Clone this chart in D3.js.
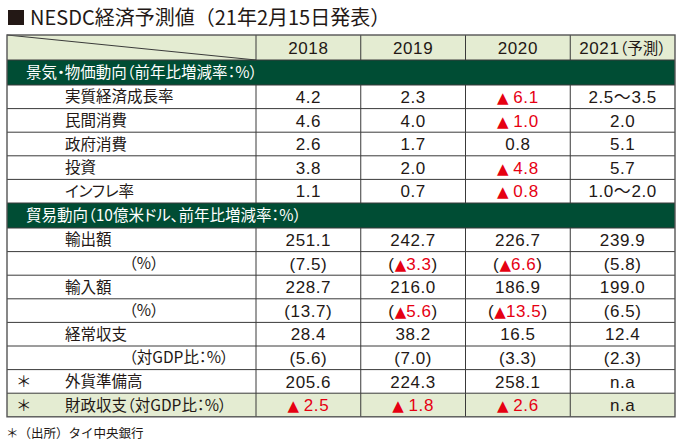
<!DOCTYPE html>
<html><head><meta charset="utf-8">
<script src="https://cdn.jsdelivr.net/npm/d3@7"></script>
<style>
body{margin:0;background:#fff;}
svg{display:block;font-family:"Liberation Sans","Noto Sans CJK JP",sans-serif;}
.jp{font-family:"Noto Sans CJK JP",sans-serif;font-feature-settings:"palt";letter-spacing:0;}
.tri{font-family:"DejaVu Sans",sans-serif;letter-spacing:0;}
</style></head><body>
<svg id="c" width="680" height="443"></svg>
<script>
const title = "NESDC経済予測値（21年2月15日発表）";
const years = ["2018","2019","2020","2021（予測）"];
const section1Title = "景気・物価動向（前年比増減率：%）";
const section1Labels = ["実質経済成長率","民間消費","政府消費","投資","インフレ率"];
const section2Title = "貿易動向（10億米ドル、前年比増減率：%）";
const section2Labels = ["輸出額","（%）","輸入額","（%）","経常収支","（対GDP比：%）","外貨準備高","財政収支（対GDP比：%）"];
const section2Sub = [false,true,false,true,false,true,false,false];
const section2Mark = ["","","","","","","＊","＊"];
const v2018 = ["4.2","4.6","2.6","3.8","1.1","251.1","(7.5)","228.7","(13.7)","28.4","(5.6)","205.6","▲ 2.5"];
const v2019 = ["2.3","4.0","1.7","2.0","0.7","242.7","(▲3.3)","216.0","(▲5.6)","38.2","(7.0)","224.3","▲ 1.8"];
const v2020 = ["▲ 6.1","▲ 1.0","0.8","▲ 4.8","▲ 0.8","226.7","(▲6.6)","186.9","(▲13.5)","16.5","(3.3)","258.1","▲ 2.6"];
const v2021 = ["2.5〜3.5","2.0","5.1","5.7","1.0〜2.0","239.9","(5.8)","199.0","(6.5)","12.4","(2.3)","n.a","n.a"];
const footnote = "＊（出所）タイ中央銀行";

const svg = d3.select("#c");
const ink = "#231815", red = "#e60012", dark = "#004d34", pale = "#e4ecd2", lineC = "#3a3a3a";
const left = 7, right = 675, labelRight = 256;
const x = d3.scaleBand().domain(years).range([labelRight, right]);
const cols = [v2018, v2019, v2020, v2021];

const rows = [];
rows.push({type:"header", h:25});
rows.push({type:"band", h:25, text:section1Title});
section1Labels.forEach((l,i)=>rows.push({type:"data", h:23.6, label:l, sub:false, mark:"", idx:i}));
rows.push({type:"band", h:25, text:section2Title});
section2Labels.forEach((l,i)=>rows.push({type:"data", h:23.6, label:l, sub:section2Sub[i], mark:section2Mark[i], idx:section1Labels.length+i, last:i===section2Labels.length-1}));
let yy = 35;
rows.forEach(r=>{r.y=yy; yy+=r.h;});
const bottom = yy;

svg.append("rect").attr("x",8).attr("y",10).attr("width",16).attr("height",15).attr("fill",ink);
svg.append("text").attr("x",30).attr("y",25).attr("font-size",20).attr("fill",ink)
  .attr("font-family","'Noto Sans CJK JP',sans-serif").text(title);

rows.forEach(r=>{
  let fill = "#fff";
  if (r.type==="header" || r.last) fill = pale;
  if (r.type==="band") fill = dark;
  svg.append("rect").attr("x",left).attr("y",r.y).attr("width",right-left).attr("height",r.h).attr("fill",fill);
});

rows.forEach((r,i)=>{ if(i>0) svg.append("line").attr("x1",left).attr("x2",right).attr("y1",r.y).attr("y2",r.y).attr("stroke",lineC).attr("stroke-width",1);});
rows.forEach(r=>{
  if (r.type==="band") return;
  [labelRight, ...years.slice(1).map(d=>x(d))].forEach(xx=>{
    svg.append("line").attr("x1",xx).attr("x2",xx).attr("y1",r.y).attr("y2",r.y+r.h).attr("stroke",lineC).attr("stroke-width",1);
  });
});
svg.append("line").attr("x1",left).attr("y1",35).attr("x2",labelRight).attr("y2",60).attr("stroke",lineC).attr("stroke-width",1);
svg.append("rect").attr("x",left).attr("y",35).attr("width",right-left).attr("height",bottom-35)
  .attr("fill","none").attr("stroke","#555").attr("stroke-width",1.4);

const fs = 15.5, nfs = 17, ls = 0.6;
function valueText(sel, s){
  const m = s.match(/^(\(?)▲\s?([\d.]+)(\)?)$/);
  const spaced = /▲\s/.test(s);
  if (m){
    if (m[1]) sel.append("tspan").attr("fill",ink).text(m[1]);
    sel.append("tspan").attr("class","tri").attr("font-size",15).attr("fill",red).text(spaced ? "▲ " : "▲");
    sel.append("tspan").attr("fill",red).text(m[2]);
    if (m[3]) sel.append("tspan").attr("fill",ink).text(m[3]);
  } else sel.append("tspan").attr("fill",ink).text(s);
}

rows.forEach(r=>{
  const cy = r.y + r.h/2;
  if (r.type==="header"){
    years.forEach(yr=>{
      const t = svg.append("text").attr("x",x(yr)+x.bandwidth()/2).attr("y",cy).attr("dy","0.36em")
        .attr("text-anchor","middle").attr("font-size",nfs).attr("letter-spacing",ls).attr("fill",ink);
      const m = yr.match(/^(\d+)(.*)$/);
      t.append("tspan").text(m[1]);
      if (m[2]) t.append("tspan").attr("class","jp").attr("font-size",fs).text(m[2]);
    });
  } else if (r.type==="band"){
    svg.append("text").attr("class","jp").attr("x",26).attr("y",cy).attr("dy","0.36em").attr("font-size",fs)
      .attr("fill","#fff").text(r.text);
  } else {
    if (r.mark) svg.append("text").attr("x",16).attr("y",cy).attr("dy","0.36em").attr("font-size",fs).attr("fill",ink)
      .attr("font-family","'Noto Sans CJK JP',sans-serif").text(r.mark);
    svg.append("text").attr("class","jp").attr("x", r.sub?129:65).attr("y",cy).attr("dy","0.36em").attr("font-size",fs).attr("fill",ink)
      .text(r.label);
    years.forEach((yr,j)=>{
      const t = svg.append("text").attr("x",x(yr)+x.bandwidth()/2).attr("y",cy).attr("dy","0.36em")
        .attr("text-anchor","middle").attr("font-size",nfs).attr("letter-spacing",ls);
      valueText(t, cols[j][r.idx]);
    });
  }
});

svg.append("text").attr("x",6).attr("y",438).attr("font-size",12.5).attr("fill",ink)
  .attr("font-family","'Noto Sans CJK JP',sans-serif").text(footnote);
</script>
</body></html>
